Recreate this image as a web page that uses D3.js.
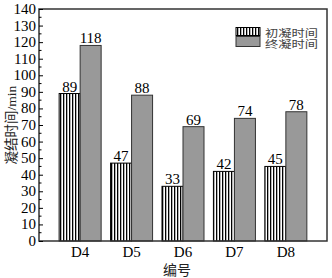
<!DOCTYPE html>
<html><head><meta charset="utf-8">
<script src="https://cdn.jsdelivr.net/npm/d3@7"></script>
<style>body{margin:0;background:#fff}svg{display:block}</style>
</head><body>
<script>
const categories = ["D4","D5","D6","D7","D8"];
const initialSet = [89,47,33,42,45];
const finalSet = [118,88,69,74,78];
const seriesNames = ["初凝时间","终凝时间"];
const yTicks = [0,10,20,30,40,50,60,70,80,90,100,110,120,130,140];

const W=332,H=278;
const L=39,T=9,R=327,B=241;
const svg=d3.select("body").append("svg").attr("width",W).attr("height",H);
const defs=svg.append("defs");
const pat=defs.append("pattern").attr("id","vh").attr("patternUnits","userSpaceOnUse")
  .attr("width",3).attr("height",4);
pat.append("rect").attr("width",3).attr("height",4).attr("fill","#fff");
pat.append("rect").attr("x",0).attr("width",1.3).attr("height",4).attr("fill","#000");

const x=d3.scalePoint().domain(categories).range([L,R]).padding(0.8);
const y=d3.scaleLinear().domain([0,140]).range([B,T]);
const bw=21;
const serif="'Liberation Serif','Times New Roman',serif";
const cjk="'Noto Sans CJK SC',sans-serif";

// bars
const g=svg.append("g");
g.selectAll(".b1").data(categories).join("rect")
  .attr("x",d=>x(d)-bw).attr("y",(d,i)=>y(initialSet[i]))
  .attr("width",bw).attr("height",(d,i)=>B-y(initialSet[i]))
  .attr("fill","url(#vh)").attr("stroke","#000").attr("stroke-width",1);
g.selectAll(".b2").data(categories).join("rect")
  .attr("x",d=>x(d)).attr("y",(d,i)=>y(finalSet[i]))
  .attr("width",bw).attr("height",(d,i)=>B-y(finalSet[i]))
  .attr("fill","#999").attr("stroke","#333").attr("stroke-width",1);
// labels
g.selectAll(".l1").data(categories).join("text")
  .attr("x",d=>x(d)-bw/2).attr("y",(d,i)=>y(initialSet[i])-2)
  .attr("text-anchor","middle").attr("font-family",serif).attr("font-size",15)
  .text((d,i)=>initialSet[i]);
g.selectAll(".l2").data(categories).join("text")
  .attr("x",d=>x(d)+bw/2).attr("y",(d,i)=>y(finalSet[i])-2)
  .attr("text-anchor","middle").attr("font-family",serif).attr("font-size",15)
  .text((d,i)=>finalSet[i]);

// frame
svg.append("rect").attr("x",L).attr("y",T).attr("width",R-L).attr("height",B-T)
  .attr("fill","none").attr("stroke","#333").attr("stroke-width",1.5);

// y axis
const ya=svg.append("g").attr("transform",`translate(${L},0)`)
  .call(d3.axisRight(y).tickValues(yTicks).tickSize(4).tickFormat(""));
ya.select(".domain").remove();
ya.selectAll("line").attr("stroke","#000");
const minor=d3.range(5,140,10);
svg.append("g").selectAll("line").data(minor).join("line")
  .attr("x1",L).attr("x2",L+2.5).attr("y1",d=>y(d)).attr("y2",d=>y(d)).attr("stroke","#000");
svg.append("g").selectAll("text").data(yTicks).join("text")
  .attr("x",L-3).attr("y",d=>y(d)+5).attr("text-anchor","end")
  .attr("font-family",serif).attr("font-size",15).text(d=>d);

// x labels
svg.append("g").selectAll("text").data(categories).join("text")
  .attr("x",d=>x(d)).attr("y",B+16).attr("text-anchor","middle")
  .attr("font-family",serif).attr("font-size",15).text(d=>d);

// axis titles
svg.append("text").attr("x",177).attr("y",275).attr("text-anchor","middle")
  .attr("font-family",cjk).attr("font-size",14).attr("fill","#222").text("编号");
svg.append("text").attr("transform","translate(16,125) rotate(-90)").attr("text-anchor","middle")
  .attr("font-family",cjk).attr("font-size",13.5).attr("fill","#222")
  .text("凝结时").append("tspan").text("间").append("tspan").attr("font-family",serif).text("/min");

// legend
const lg=svg.append("g");
lg.append("rect").attr("x",236).attr("y",27.5).attr("width",24).attr("height",8)
  .attr("fill","url(#vh)").attr("stroke","#000");
lg.append("rect").attr("x",236).attr("y",36.5).attr("width",24).attr("height",10)
  .attr("fill","#999").attr("stroke","#333");
lg.append("text").attr("x",265).attr("y",36.5).attr("font-family",cjk).attr("font-size",10.5)
  .attr("textLength",53).attr("lengthAdjust","spacingAndGlyphs")
  .attr("fill","#444").text(seriesNames[0]);
lg.append("text").attr("x",265).attr("y",47.5).attr("font-family",cjk).attr("font-size",10.5)
  .attr("textLength",53).attr("lengthAdjust","spacingAndGlyphs")
  .attr("fill","#444").text(seriesNames[1]);
</script>
</body></html>
